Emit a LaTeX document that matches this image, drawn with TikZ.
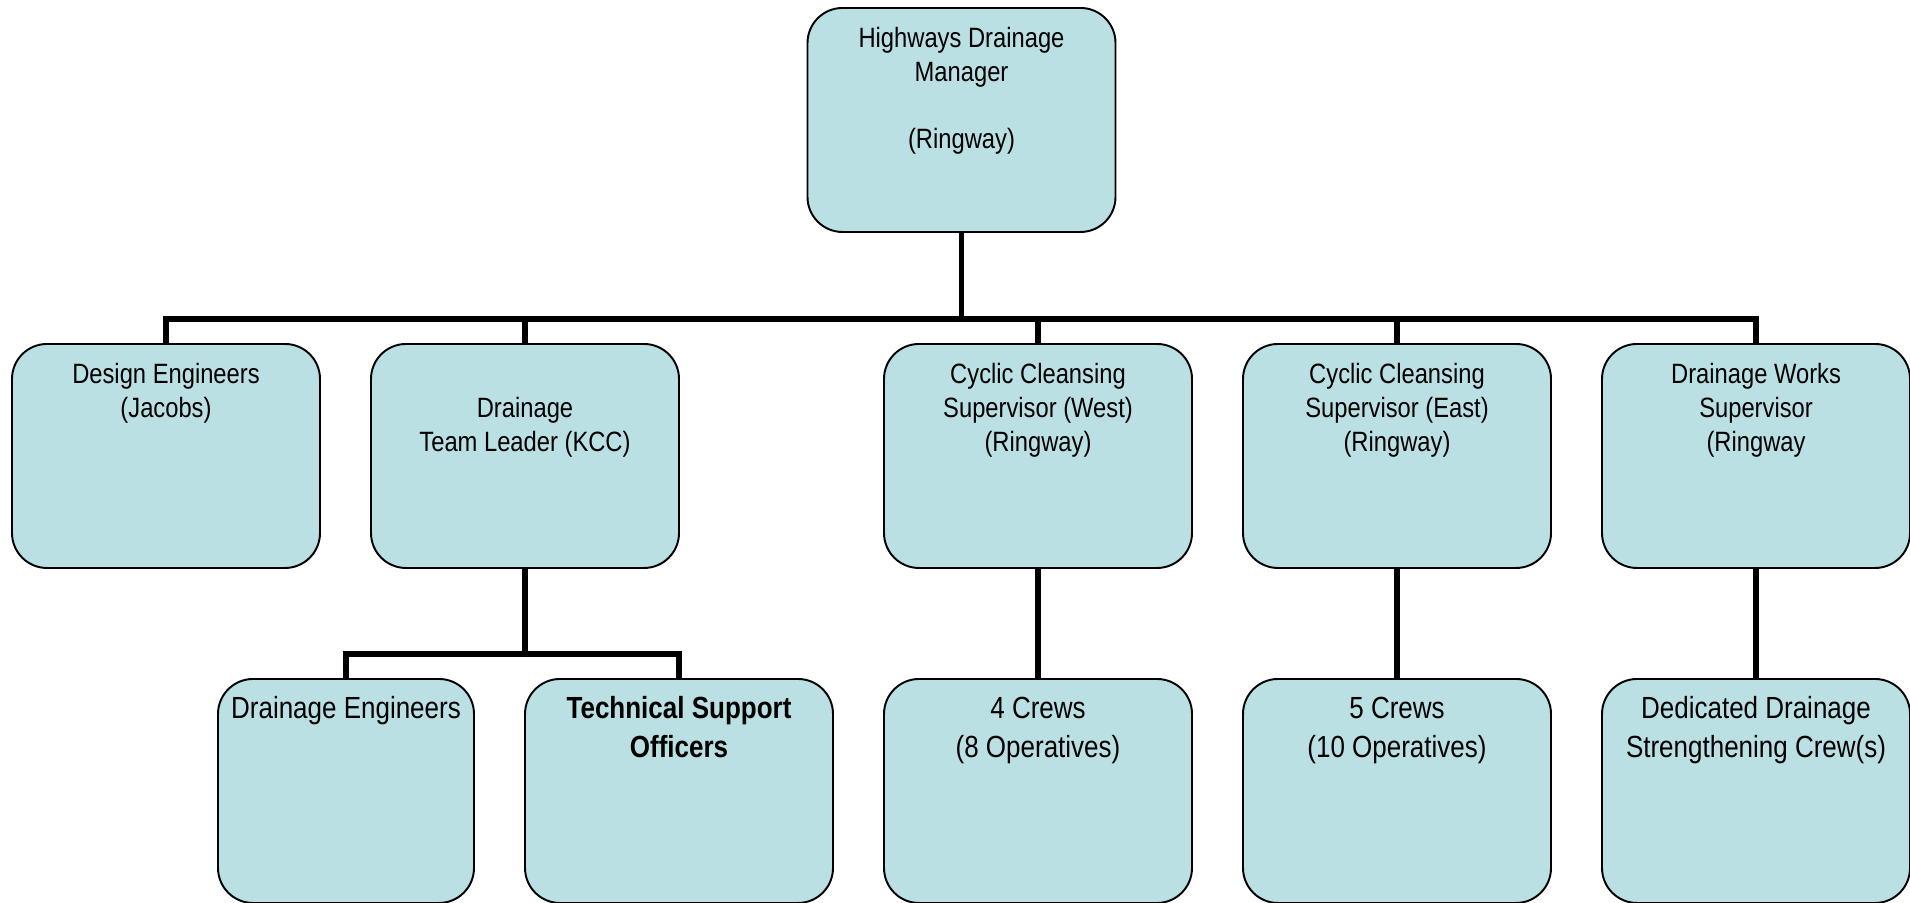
\documentclass[tikz,border=0pt]{standalone}
\usepackage{fontspec}
\setmainfont[FakeStretch=0.85]{Liberation Sans}
\usepackage{tikz}
\usetikzlibrary{calc}
\definecolor{boxfill}{RGB}{186,224,228}

\begin{document}
\begin{tikzpicture}[
			bw/.code={\def\bw{#1}}, bw=6.16cm,
			role/.style={draw=black, line width=1.1pt, fill=boxfill, rounded corners=0.7cm, inner sep=0pt,
				font=\fontsize{15.9}{19.1}\selectfont,
				execute at begin node={\begin{minipage}[c][4.48cm][t]{\bw}\centering\rule{0pt}{0.8cm}},
				execute at end node={\end{minipage}}},
			crew/.style={role, font=\fontsize{17.4}{22.2}\selectfont},
			link/.style={draw=black, line width=3.3pt}
			]
			\useasboundingbox (0,0) rectangle (38.2,-18.04);
			
			\coordinate (bus) at (0,-6.38);
			\coordinate (tsbus) at (0,-13.08);
			
			%% Boxes
			\node[role, anchor=north] (mgr) at (19.23,-0.14) {Highways Drainage\\Manager\\\mbox{}\\(Ringway)};
			
			\node[role, anchor=north] (design) at (3.32,-6.86) {Design Engineers\\(Jacobs)};
			\node[role, anchor=north] (drain) at (10.5,-6.86) {\mbox{}\\Drainage\\Team Leader (KCC)};
			\node[role, anchor=north] (westsup) at (20.76,-6.86) {Cyclic Cleansing\\Supervisor (West)\\(Ringway)};
			\node[role, anchor=north] (eastsup) at (27.94,-6.86) {Cyclic Cleansing\\Supervisor (East)\\(Ringway)};
			\node[role, anchor=north] (works) at (35.12,-6.86) {Drainage Works\\Supervisor\\(Ringway};
			
			\node[crew, bw=5.12cm, anchor=north] (dreng) at (6.92,-13.56) {Drainage Engineers};
			\node[crew, anchor=north] (tso) at (13.58,-13.56) {\textbf{Technical Support}\\\textbf{Officers}};
			\node[crew, anchor=north] (westcrews) at (20.76,-13.56) {4 Crews\\(8 Operatives)};
			\node[crew, anchor=north] (eastcrews) at (27.94,-13.56) {5 Crews\\(10 Operatives)};
			\node[crew, anchor=north] (dscrew) at (35.12,-13.56) {Dedicated Drainage\\Strengthening Crew(s)};
			
			%% Lines
			\draw[link] (mgr.south) -- (mgr.south |- bus);
			\draw[link] (design.north) -- (design.north |- bus) -- (works.north |- bus) -- (works.north);
			\foreach \n in {drain,westsup,eastsup}
				\draw[link] (\n.north) -- (\n.north |- bus);
			
			\draw[link] (drain.south) -- (drain.south |- tsbus);
			\draw[link] (dreng.north) -- (dreng.north |- tsbus) -- (tso.north |- tsbus) -- (tso.north);
			
			\draw[link] (westsup.south) -- (westcrews.north);
			\draw[link] (eastsup.south) -- (eastcrews.north);
			\draw[link] (works.south) -- (dscrew.north);
			
\end{tikzpicture}
\end{document}
